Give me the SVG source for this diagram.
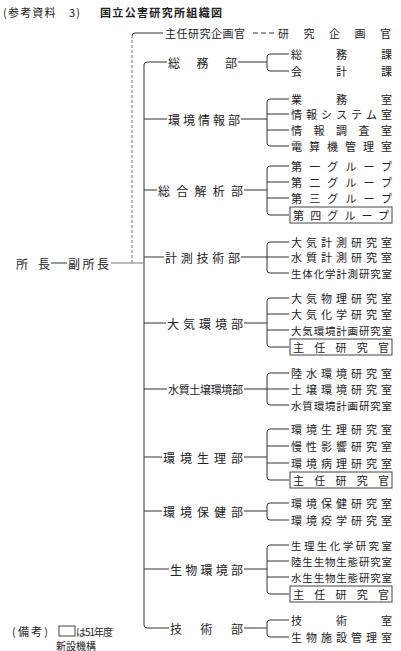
<svg xmlns="http://www.w3.org/2000/svg" width="401" height="651" viewBox="0 0 401 651">
<style>
.ln{stroke:#333;stroke-width:1;fill:none}
.lg{stroke:#777;stroke-width:1;fill:none}
.t{font-family:"Noto Sans CJK JP","Noto Sans CJK SC",sans-serif;font-size:11px;fill:#222;dominant-baseline:central}
.d{font-size:12px}
.s{font-size:10.5px}
.x{font-size:10px}
.b{font-weight:bold}
.box{fill:none;stroke:#444;stroke-width:1}
</style>
<rect width="401" height="651" fill="#fff"/>
<g id="title">
<text class="t" x="3" y="12" font-size="13" textLength="77" lengthAdjust="spacing">(参考資料　3)</text>
<text class="t b" x="100" y="12" font-size="12.5" textLength="122" lengthAdjust="spacing">国立公害研究所組織図</text>
</g>
<g id="connectors">
<path class="ln" d="M51,263 H67"/>
<path class="lg" d="M111,263 H143"/>
<path class="lg" d="M132,263 V36" stroke-dasharray="3,2"/>
<path class="ln" d="M132,36 Q132,33 135,33 H163"/>
<path class="ln" d="M253,33 H275" stroke-dasharray="5,3"/>
<path class="ln" d="M167,62 H147 Q144,62 144,65 V625 Q144,628 147,628 H169"/>
<path class="ln" d="M144,119 H167 M144,190 H157 M144,257 H164 M144,323 H166 M144,389 H167 M144,457 H162 M144,511 H162 M144,569 H169"/>
<path class="ln" d="M238,62 H267 M241,119 H267 M244,190 H267 M241,257 H267 M244,323 H267 M244,389 H267 M244,457 H267 M244,511 H267 M244,569 H267 M244,628 H267"/>
<path class="ln" d="M289,54 H270 Q267,54 267,57 V68 Q267,71 270,71 H289"/>
<path class="ln" d="M289,99 H270 Q267,99 267,102 V143 Q267,146 270,146 H289 M267,114 H289 M267,130 H289"/>
<path class="ln" d="M289,166 H270 Q267,166 267,169 V212 Q267,215 270,215 H289 M267,182 H289 M267,198 H289"/>
<path class="ln" d="M289,242 H270 Q267,242 267,245 V270 Q267,273 270,273 H289 M267,257 H289"/>
<path class="ln" d="M289,298 H270 Q267,298 267,301 V344 Q267,347 270,347 H289 M267,314 H289 M267,330 H289"/>
<path class="ln" d="M289,373 H270 Q267,373 267,376 V402 Q267,405 270,405 H289 M267,389 H289"/>
<path class="ln" d="M289,429 H270 Q267,429 267,432 V477 Q267,480 270,480 H289 M267,446 H289 M267,463 H289"/>
<path class="ln" d="M289,503 H270 Q267,503 267,506 V517 Q267,520 270,520 H289"/>
<path class="ln" d="M289,545 H270 Q267,545 267,548 V591 Q267,594 270,594 H289 M267,561 H289 M267,577 H289"/>
<path class="ln" d="M289,620 H270 Q267,620 267,623 V634 Q267,637 270,637 H289"/>
</g>
<g id="director">
<text class="t d" x="16" y="263" textLength="34" lengthAdjust="spacing">所　長</text>
</g>
<g id="vice-director">
<text class="t d" x="68" y="263" textLength="41" lengthAdjust="spacing">副所長</text>
</g>
<g id="chief-planning">
<text class="t" x="165" y="33" textLength="80" lengthAdjust="spacing">主任研究企画官</text>
<text class="t" x="278" y="33" textLength="113" lengthAdjust="spacing">研究企画官</text>
</g>
<g id="dept-somu">
<text class="t d" x="168" y="62" textLength="69" lengthAdjust="spacing">総務部</text>
<text class="t" x="291" y="54" textLength="101" lengthAdjust="spacing">総務課</text>
<text class="t" x="291" y="71" textLength="101" lengthAdjust="spacing">会計課</text>
</g>
<g id="dept-joho">
<text class="t d" x="168" y="119" textLength="72" lengthAdjust="spacing">環境情報部</text>
<text class="t" x="291" y="99" textLength="101" lengthAdjust="spacing">業務室</text>
<text class="t" x="291" y="114" textLength="101" lengthAdjust="spacing">情報システム室</text>
<text class="t" x="291" y="130" textLength="101" lengthAdjust="spacing">情報調査室</text>
<text class="t" x="291" y="146" textLength="101" lengthAdjust="spacing">電算機管理室</text>
</g>
<g id="dept-kaiseki">
<text class="t d" x="158" y="190" textLength="85" lengthAdjust="spacing">総合解析部</text>
<text class="t" x="291" y="166" textLength="101" lengthAdjust="spacing">第一グループ</text>
<text class="t" x="291" y="182" textLength="101" lengthAdjust="spacing">第二グループ</text>
<text class="t" x="291" y="198" textLength="101" lengthAdjust="spacing">第三グループ</text>
<rect class="box" x="290" y="207" width="102" height="16"/>
<text class="t" x="293" y="215" textLength="96" lengthAdjust="spacing">第四グループ</text>
</g>
<g id="dept-keisoku">
<text class="t d" x="165" y="257" textLength="75" lengthAdjust="spacing">計測技術部</text>
<text class="t" x="291" y="242" textLength="101" lengthAdjust="spacing">大気計測研究室</text>
<text class="t" x="291" y="257" textLength="101" lengthAdjust="spacing">水質計測研究室</text>
<text class="t s" x="291" y="273" textLength="101" lengthAdjust="spacing">生体化学計測研究室</text>
</g>
<g id="dept-taiki">
<text class="t d" x="167" y="323" textLength="76" lengthAdjust="spacing">大気環境部</text>
<text class="t" x="291" y="298" textLength="101" lengthAdjust="spacing">大気物理研究室</text>
<text class="t" x="291" y="314" textLength="101" lengthAdjust="spacing">大気化学研究室</text>
<text class="t s" x="291" y="330" textLength="101" lengthAdjust="spacing">大気環境計画研究室</text>
<rect class="box" x="290" y="339" width="102" height="16"/>
<text class="t" x="293" y="347" textLength="96" lengthAdjust="spacing">主任研究官</text>
</g>
<g id="dept-suishitsu">
<text class="t" x="168" y="389" textLength="75" lengthAdjust="spacing">水質土壌環境部</text>
<text class="t" x="291" y="373" textLength="101" lengthAdjust="spacing">陸水環境研究室</text>
<text class="t" x="291" y="389" textLength="101" lengthAdjust="spacing">土壌環境研究室</text>
<text class="t s" x="291" y="405" textLength="101" lengthAdjust="spacing">水質環境計画研究室</text>
</g>
<g id="dept-seiri">
<text class="t d" x="163" y="457" textLength="80" lengthAdjust="spacing">環境生理部</text>
<text class="t" x="291" y="429" textLength="101" lengthAdjust="spacing">環境生理研究室</text>
<text class="t" x="291" y="446" textLength="101" lengthAdjust="spacing">慢性影響研究室</text>
<text class="t" x="291" y="463" textLength="101" lengthAdjust="spacing">環境病理研究室</text>
<rect class="box" x="290" y="472" width="102" height="16"/>
<text class="t" x="293" y="480" textLength="96" lengthAdjust="spacing">主任研究官</text>
</g>
<g id="dept-hoken">
<text class="t d" x="163" y="511" textLength="80" lengthAdjust="spacing">環境保健部</text>
<text class="t" x="291" y="503" textLength="101" lengthAdjust="spacing">環境保健研究室</text>
<text class="t" x="291" y="520" textLength="101" lengthAdjust="spacing">環境疫学研究室</text>
</g>
<g id="dept-seibutsu">
<text class="t d" x="170" y="569" textLength="73" lengthAdjust="spacing">生物環境部</text>
<text class="t s" x="291" y="545" textLength="101" lengthAdjust="spacing">生理生化学研究室</text>
<text class="t s" x="291" y="561" textLength="101" lengthAdjust="spacing">陸生生物生態研究室</text>
<text class="t s" x="291" y="577" textLength="101" lengthAdjust="spacing">水生生物生態研究室</text>
<rect class="box" x="290" y="586" width="102" height="16"/>
<text class="t" x="293" y="594" textLength="96" lengthAdjust="spacing">主任研究官</text>
</g>
<g id="dept-gijutsu">
<text class="t d" x="170" y="628" textLength="73" lengthAdjust="spacing">技術部</text>
<text class="t" x="291" y="620" textLength="101" lengthAdjust="spacing">技術室</text>
<text class="t" x="291" y="637" textLength="101" lengthAdjust="spacing">生物施設管理室</text>
</g>
<g id="legend">
<text class="t" x="12" y="631" textLength="36" lengthAdjust="spacing">(備考)</text>
<rect class="box" x="59" y="626" width="16" height="10"/>
<text class="t x" x="76" y="631" textLength="37" lengthAdjust="spacing">は51年度</text>
<text class="t x" x="56" y="645" textLength="40" lengthAdjust="spacing">新設機構</text>
</g>
</svg>
